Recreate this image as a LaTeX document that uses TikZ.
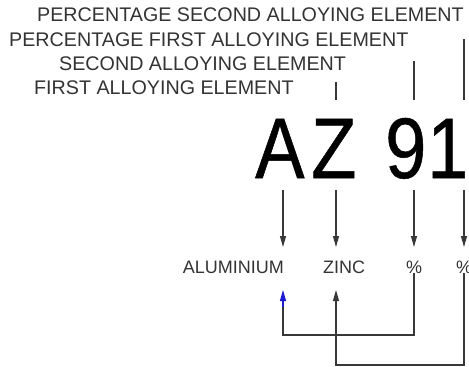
\documentclass[tikz,border=0pt]{standalone}
\usepackage{fontspec}
\setmainfont{Liberation Sans}
\newfontfamily\desigfamily[FakeStretch=0.86,FakeBold=0.6]{Liberation Sans}
\usetikzlibrary{arrows.meta}
\definecolor{AlloyText}{HTML}{333333}
\definecolor{AlloyWire}{HTML}{383838}
\definecolor{AlloyBlue}{HTML}{1A1AD0}
\newcommand\lblfont{\fontsize{19.7}{22}\selectfont}
\newcommand\bottomfont{\fontsize{18}{21}\selectfont}
\newcommand\desigfont{\desigfamily\fontsize{86}{90}\selectfont}

\begin{document}
\begin{tikzpicture}[x=1pt,y=-1pt,inner sep=0pt,
    every node/.style={font=\lblfont,text=AlloyText},
    glyph/.style={anchor=base west,font=\desigfont,text=black},
    wire/.style={AlloyWire,line width=1.1pt},
    tip/.style={wire,-{Triangle[length=11pt,width=6pt]}}]
    \useasboundingbox (0,0) rectangle (469,367);
    % names of the parts
    \node[anchor=base west] (pctSecond) at (37,21) {PERCENTAGE SECOND ALLOYING ELEMENT};
    \node[anchor=base west] (pctFirst) at (9,46) {PERCENTAGE FIRST ALLOYING ELEMENT};
    \node[anchor=base west] (second) at (59,70) {SECOND ALLOYING ELEMENT};
    \node[anchor=base west] (first) at (34,94) {FIRST ALLOYING ELEMENT};
    % designation
    \node[glyph] (desigA) at (255,178) {A};
    \node[glyph] (desigZ) at (311,178) {Z};
    \node[glyph] (desigNine) at (385,178) {9};
    \node[glyph] (desigOne) at (427,178) {1};
    % what it stands for
    \node[anchor=base east,font=\bottomfont] (alu) at (284,273) {ALUMINIUM};
    \node[anchor=base west,font=\bottomfont] (zinc) at (323,273) {ZINC};
    \node[anchor=base,font=\bottomfont] (pctA) at (414,273) {\%};
    \node[anchor=base,font=\bottomfont] (pctB) at (464,273) {\%};
    % columns and rows
    \foreach \n/\x in {colA/283,colZ/336,colNine/414,colOne/464}{
      \coordinate (\n) at (\x,0);}
    \foreach \n/\y in {desigTop/100,desigBot/190,downTip/247,upTip/290,blueFoot/307,busA/335,busB/365}{
      \coordinate (\n) at (0,\y);}
    \draw[wire,shorten <=2pt] (colZ |- first.north) -- (colZ |- desigTop);
    \draw[wire,shorten <=5pt] (colNine |- second.north) -- (colNine |- desigTop);
    \draw[wire,shorten <=7pt] (colOne |- pctFirst.north) -- (colOne |- desigTop);
    \foreach \c in {colA,colZ,colNine,colOne}{
      \draw[tip] (\c |- desigBot) -- (\c |- downTip);}
    \draw[wire] (pctA.south) |- (colA |- busA) -- (colA |- blueFoot);
    \draw[tip,AlloyBlue] (colA |- blueFoot) -- (colA |- upTip);
    \draw[tip] (pctB.south) |- (colZ |- busB) -- (colZ |- upTip);
  \end{tikzpicture}
\end{document}
